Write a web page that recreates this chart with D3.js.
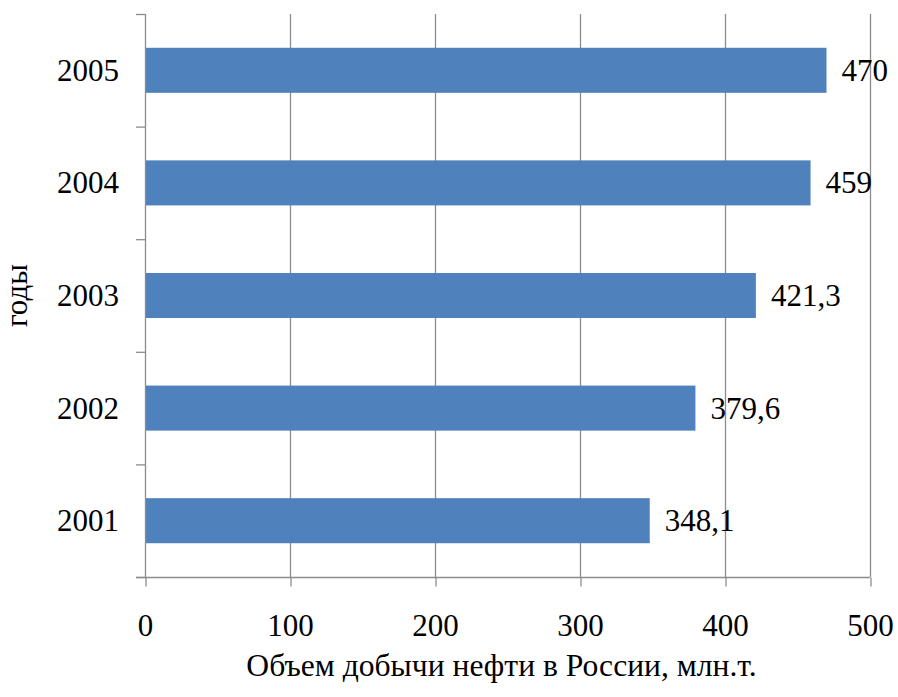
<!DOCTYPE html>
<html><head><meta charset="utf-8">
<script src="https://cdn.jsdelivr.net/npm/d3@7"></script>
<style>
html,body{margin:0;padding:0;background:#fff;}
svg{display:block;}
svg text{font-family:"Liberation Serif","Times New Roman",serif;}
</style></head>
<body>
<svg id="chart" width="898" height="697"></svg>
<script>
const years = ["2001","2002","2003","2004","2005"];
const values = [348.1, 379.6, 421.3, 459, 470];
const valueLabels = ["348,1","379,6","421,3","459","470"];
const xTicks = [0,100,200,300,400,500];
const xTitle = "Объем добычи нефти в России, млн.т.";
const yTitle = "годы";

const svg = d3.select("#chart");
const pL = 145, pR = 870, pT = 14, pB = 577;
const gridColor = "#8c8c8c";
const fs = 31;
const ff = '"Liberation Serif","Times New Roman",serif';

const x = d3.scaleLinear().domain([0,500]).range([pL,pR]);
const y = d3.scaleBand().domain(years.slice().reverse()).range([pT,pB]).paddingInner(0.6).paddingOuter(0.3);

// gridlines
svg.append("g").selectAll("line").data(xTicks.filter(d=>d>0)).join("line")
  .attr("x1",d=>x(d)+0.5).attr("x2",d=>x(d)+0.5)
  .attr("y1",pT).attr("y2",pB)
  .attr("stroke",gridColor).attr("stroke-width",1.3);

// bars
svg.append("g").selectAll("rect").data(years).join("rect")
  .attr("x",x(0)).attr("y",d=>y(d))
  .attr("width",(d,i)=>x(values[i])-x(0))
  .attr("height",y.bandwidth())
  .attr("fill","#4f81bd");

// x axis
const xAxis = svg.append("g").attr("transform",`translate(0,${pB+0.5})`)
  .call(d3.axisBottom(x).tickValues(xTicks).tickSize(9).tickPadding(27).tickFormat(d3.format("d")));
xAxis.attr("font-family",null);
xAxis.select(".domain").remove();
xAxis.append("line").attr("x1",pL-9).attr("x2",pR).attr("y1",0).attr("y2",0).attr("stroke",gridColor).attr("stroke-width",1.3);
xAxis.selectAll(".tick line").attr("stroke",gridColor).attr("stroke-width",1.3).attr("transform","translate(0.5,0)");
xAxis.selectAll(".tick text").attr("font-size",fs).attr("fill","#000").style("font-family",ff);

// y axis
const step = (pB-pT)/years.length;
const yBounds = d3.range(years.length+1).map(i=>pT + i*step);
const yAx = svg.append("g");
yAx.append("line").attr("x1",pL+0.5).attr("x2",pL+0.5).attr("y1",pT).attr("y2",pB).attr("stroke",gridColor).attr("stroke-width",1.3);
yAx.selectAll("line.t").data(yBounds).join("line").attr("class","t")
  .attr("x1",pL-9).attr("x2",pL).attr("y1",d=>d+0.5).attr("y2",d=>d+0.5)
  .attr("stroke",gridColor).attr("stroke-width",1.3);
yAx.selectAll("text").data(years).join("text")
  .attr("x",119).attr("y",d=>y(d)+y.bandwidth()/2)
  .attr("dy","0.34em").attr("text-anchor","end")
  .attr("font-size",fs).attr("fill","#000").style("font-family",ff).text(d=>d);

// value labels
svg.append("g").selectAll("text").data(years).join("text")
  .attr("x",(d,i)=>x(values[i])+15).attr("y",d=>y(d)+y.bandwidth()/2)
  .attr("dy","0.34em").attr("font-size",fs).attr("fill","#000").style("font-family",ff)
  .text((d,i)=>valueLabels[i]);

// titles
svg.append("text").attr("x",(pL+pR)/2 - 6).attr("y",676)
  .attr("text-anchor","middle").attr("font-size",31.6).attr("fill","#000").style("font-family",ff).text(xTitle);
svg.append("text").attr("transform",`translate(27,${(pT+pB)/2}) rotate(-90)`)
  .attr("text-anchor","middle").attr("font-size",fs).attr("fill","#000").style("font-family",ff).text(yTitle);
</script>
</body></html>
